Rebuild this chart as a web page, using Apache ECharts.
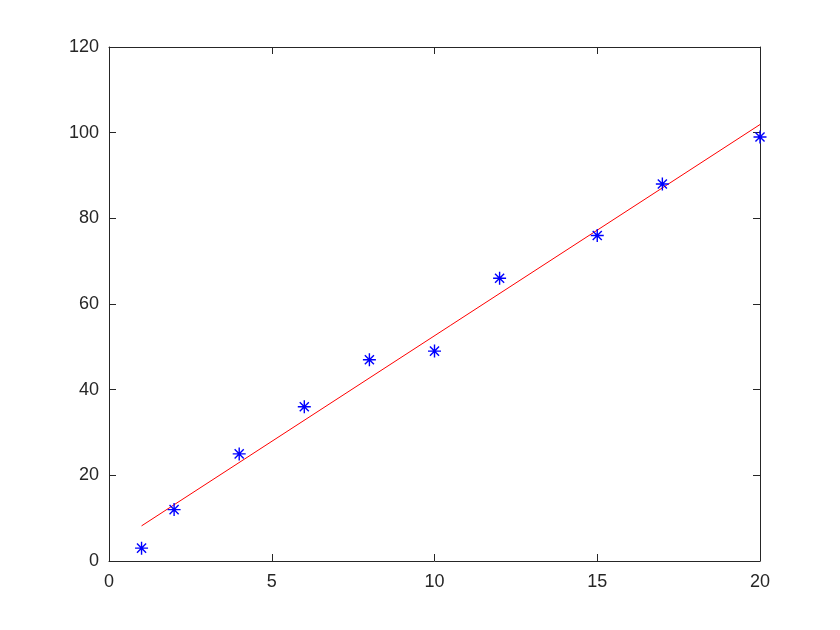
<!DOCTYPE html>
<html>
<head>
<meta charset="utf-8">
<script src="https://cdn.jsdelivr.net/npm/echarts@6/dist/echarts.min.js"></script>
<style>html,body{margin:0;padding:0;background:#fff}#c{width:840px;height:630px}</style>
</head>
<body>
<div id="c"></div>
<script>
var xValues = [1, 2, 4, 6, 8, 10, 12, 15, 17, 20];
var yValues = [3, 12, 25, 36, 47, 49, 66, 76, 88, 99];
var fitX = [1, 20];
var fitY = [8.2, 101.9];
var xTicks = [0, 5, 10, 15, 20];
var yTicks = [0, 20, 40, 60, 80, 100, 120];

var chart = echarts.init(document.getElementById('c'), null, {renderer: 'canvas'});
var axCol = '#262626';
var font = {fontFamily: 'Liberation Sans, Arial, sans-serif', fontSize: 18, color: axCol};
function axisCommon(show, margin) {
  return {
    axisLine: {show: true, onZero: false, lineStyle: {color: axCol, width: 1}},
    axisTick: {show: true, inside: true, length: 7, lineStyle: {color: axCol}},
    axisLabel: Object.assign({show: show, margin: margin}, font),
    splitLine: {show: false}
  };
}
var option = {
  animation: false,
  backgroundColor: '#fff',
  grid: {left: 109, right: 80, top: 47, bottom: 69, containLabel: false},
  xAxis: [
    Object.assign({type: 'value', min: 0, max: 20, interval: 5, position: 'bottom'}, axisCommon(true, 12)),
    Object.assign({type: 'value', min: 0, max: 20, interval: 5, position: 'top'}, axisCommon(false, 12))
  ],
  yAxis: [
    Object.assign({type: 'value', min: 0, max: 120, interval: 20, position: 'left'}, axisCommon(true, 10)),
    Object.assign({type: 'value', min: 0, max: 120, interval: 20, position: 'right'}, axisCommon(false, 10))
  ],
  series: [
    {
      type: 'line',
      data: fitX.map(function (x, i) { return [x, fitY[i]]; }),
      showSymbol: false,
      symbol: 'none',
      lineStyle: {color: '#ff0000', width: 1},
      z: 2
    },
    {
      type: 'scatter',
      data: xValues.map(function (x, i) { return [x, yValues[i]]; }),
      symbol: 'path://M10,0L10,20M0,10L20,10M3,3L17,17M3,17L17,3',
      symbolSize: 13,
      itemStyle: {color: 'none', borderColor: '#0000ff', borderWidth: 1.4, opacity: 1},
      z: 3
    }
  ]
};
chart.setOption(option);
</script>
</body>
</html>
